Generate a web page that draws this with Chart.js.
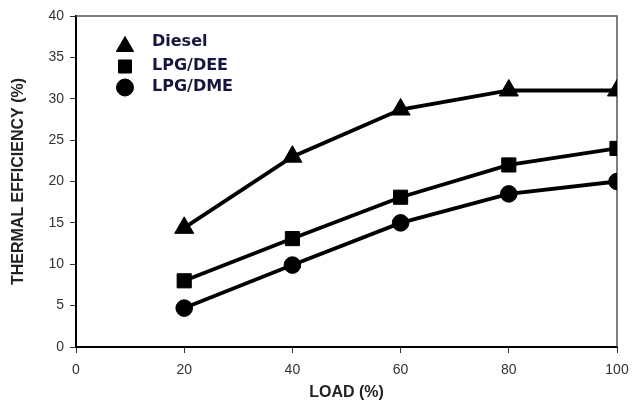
<!DOCTYPE html>
<html>
<head>
<meta charset="utf-8">
<script src="https://cdn.jsdelivr.net/npm/chart.js@4"></script>
<style>
  html, body { margin: 0; padding: 0; background: #fff; }
  #wrap { width: 632px; height: 402px; }
</style>
</head>
<body>
<div id="wrap"><canvas id="effChart"></canvas></div>
<script>
// engine load (%) and brake thermal efficiency (%) for each fuel
const loads = [20, 40, 60, 80, 100]
const diesel = [14.4, 23.0, 28.7, 31.0, 31.0]
const lpgDee = [8.0, 13.1, 18.1, 22.0, 24.0]
const lpgDme = [4.7, 9.9, 15.0, 18.5, 20.0]

const fuelNames = ["Diesel", "LPG/DEE", "LPG/DME"]
const xTicks = [0, 20, 40, 60, 80, 100]
const yTicks = [0, 5, 10, 15, 20, 25, 30, 35, 40]

const ctx = document.getElementById("effChart")

function toPoints(ys) {
    return loads.map((x, i) => ({ x: x, y: ys[i] }))
}

function series(label, ys, style, radius) {
    return {
        label: label,
        data: toPoints(ys),
        borderColor: "#000",
        backgroundColor: "#000",
        borderWidth: 3.8,
        pointStyle: style,
        pointRadius: radius,
        pointBorderWidth: 1,
        pointBackgroundColor: "#000",
        pointBorderColor: "#000",
        tension: 0
    }
}

// legend sits inside the plot, top-left, drawn with the same point styles
const innerLegend = {
    id: "innerLegend",
    afterDraw(chart) {
        const c = chart.ctx
        const area = chart.chartArea
        const rows = [26, 50, 71]
        const markerX = area.left + 49
        const textX = area.left + 76
        c.save()
        chart.data.datasets.forEach((ds, i) => {
            const y = area.top + rows[i]
            const isTri = ds.pointStyle === "triangle"
            const r = isTri ? 10 : (ds.pointStyle === "rect" ? 9.2 : 8.5)
            c.fillStyle = "#000"
            c.strokeStyle = "#000"
            c.lineWidth = 1
            Chart.helpers.drawPoint(c, { pointStyle: ds.pointStyle, radius: r, rotation: 0, borderWidth: 1 },
                markerX, isTri ? y + 4.5 : y + 0.5)
            c.fillStyle = "#15153d"
            c.font = "bold 16px 'DejaVu Sans'"
            c.textBaseline = "middle"
            c.textAlign = "left"
            c.fillText(fuelNames[i], textX, y)
        })
        c.restore()
    }
}

// thin grey frame on the top and right edges of the plot
const frame = {
    id: "frame",
    beforeDatasetsDraw(chart) {
        const c = chart.ctx
        const a = chart.chartArea
        c.save()
        c.strokeStyle = "#555"
        c.lineWidth = 1.5
        c.beginPath()
        c.moveTo(a.left, a.top)
        c.lineTo(a.right, a.top)
        c.lineTo(a.right, a.bottom)
        c.stroke()
        c.restore()
    }
}

const effChart = new Chart(ctx, {
    type: "line",
    data: {
        datasets: [
            series(fuelNames[0], diesel, "triangle", 11),
            series(fuelNames[1], lpgDee, "rect", 10),
            series(fuelNames[2], lpgDme, "circle", 8.3)
        ]
    },
    options: {
        responsive: true,
        maintainAspectRatio: false,
        animation: false,
        layout: { padding: { top: 16, right: 15, left: 0, bottom: 0 } },
        plugins: {
            legend: { display: false },
            tooltip: { enabled: false }
        },
        scales: {
            x: {
                type: "linear",
                min: 0,
                max: 100,
                afterFit(scale) {
                    scale.height = 55
                    scale.paddingLeft = 0
                    scale.paddingRight = 0
                },
                afterBuildTicks(scale) { scale.ticks = xTicks.map(v => ({ value: v })) },
                border: { display: true, color: "#000", width: 2 },
                grid: { drawOnChartArea: false, drawTicks: true, tickLength: 6, color: "#333", lineWidth: 1 },
                ticks: {
                    color: "#333",
                    font: { family: "'Liberation Sans', Arial", size: 14 },
                    padding: 9,
                    maxRotation: 0
                },
                title: {
                    display: true,
                    text: "LOAD (%)",
                    color: "#222",
                    font: { family: "'Liberation Sans', Arial", size: 16, weight: "bold" },
                    padding: { top: 0, bottom: 0 }
                }
            },
            y: {
                min: 0,
                max: 40,
                afterFit(scale) {
                    scale.width = 76
                    scale.paddingTop = 0
                    scale.paddingBottom = 0
                },
                afterBuildTicks(scale) { scale.ticks = yTicks.map(v => ({ value: v })) },
                border: { display: true, color: "#000", width: 2 },
                grid: { drawOnChartArea: false, drawTicks: true, tickLength: 6, color: "#333", lineWidth: 1 },
                ticks: {
                    color: "#333",
                    font: { family: "'Liberation Sans', Arial", size: 14 },
                    padding: 6
                },
                title: {
                    display: true,
                    text: "THERMAL EFFICIENCY (%)",
                    color: "#222",
                    font: { family: "'Liberation Sans', Arial", size: 16, weight: "bold" },
                    padding: { top: 9, bottom: 0 }
                }
            }
        }
    },
    plugins: [frame, innerLegend]
})
</script>
</body>
</html>
